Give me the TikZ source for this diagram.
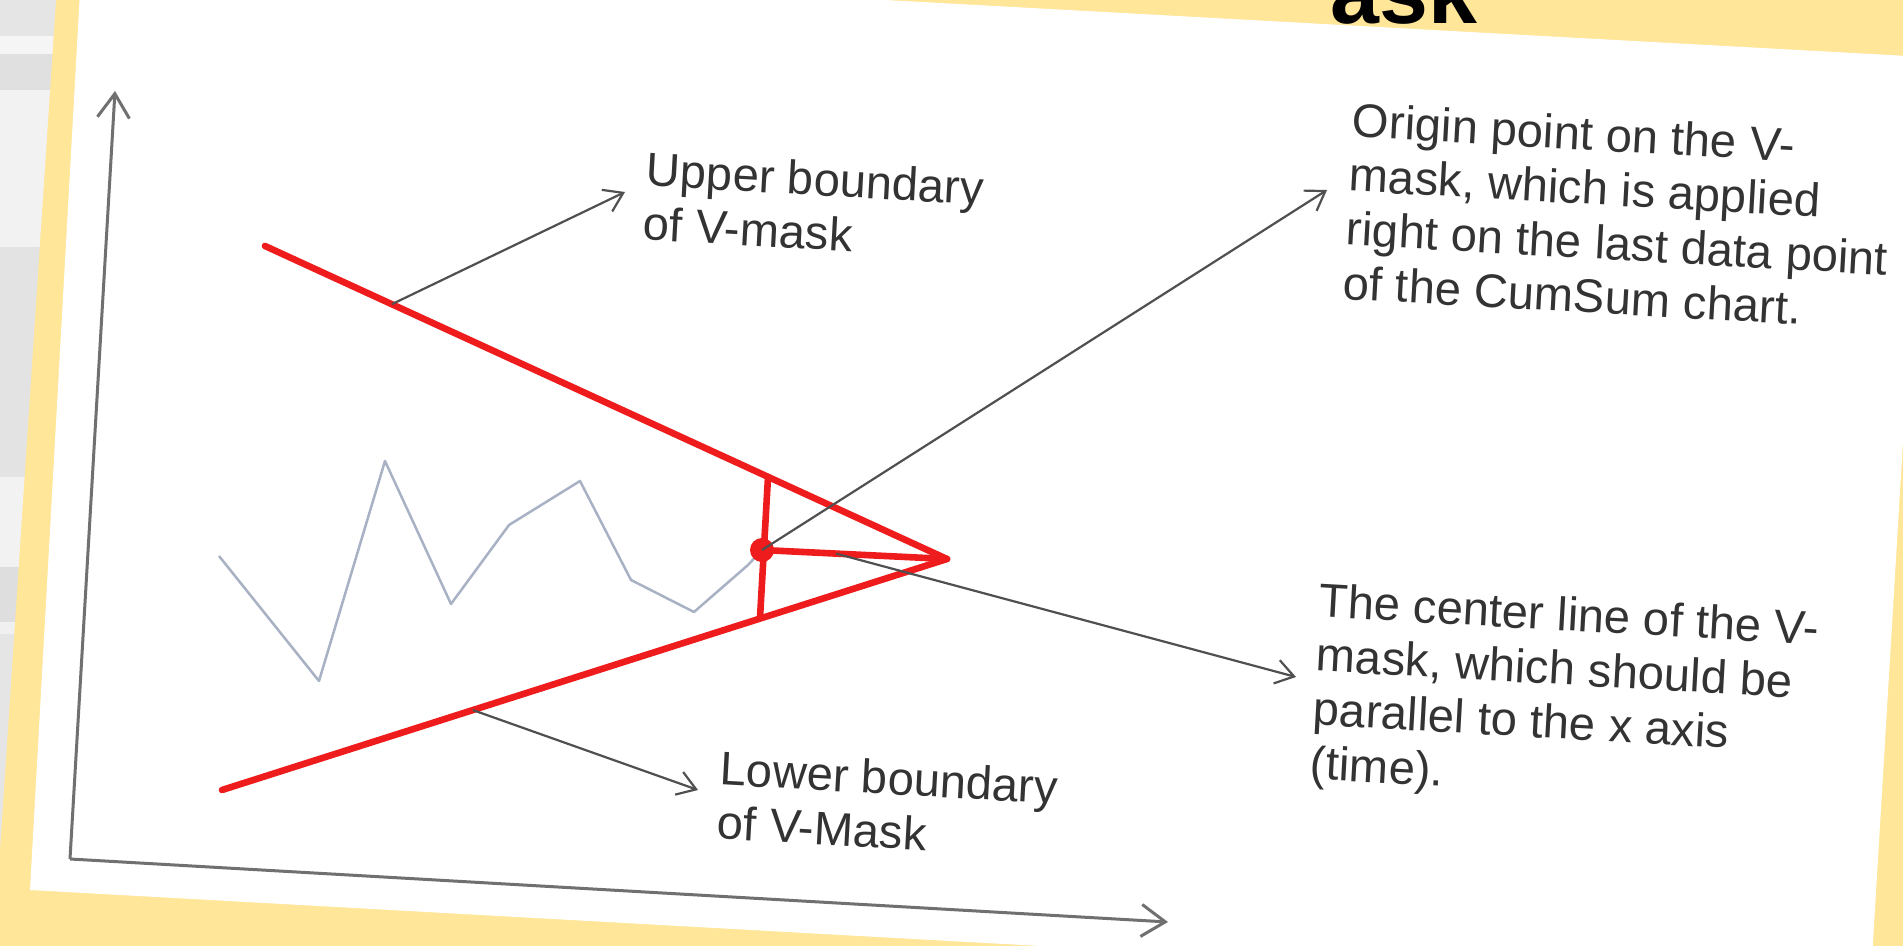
\documentclass[tikz,border=0pt]{standalone}
\usepackage{fontspec}
\setmainfont{Liberation Sans}
\usepackage{tikz}
\usetikzlibrary{arrows.meta,calc}
\definecolor{slideyellow}{HTML}{FFE699}
\definecolor{maskred}{HTML}{EE1C1C}
\definecolor{inkgray}{HTML}{333333}
\definecolor{leadgray}{HTML}{505050}
\definecolor{axisgray}{HTML}{707070}
\definecolor{datablue}{HTML}{A8B2C4}

\begin{document}
\begin{tikzpicture}[
        x=0.01cm, y=-0.01cm,
        mask/.style={draw=maskred, line width=0.066cm, line cap=round, line join=round},
        lead/.style={-{Straight Barb[length=1.8mm, width=2.4mm]}, draw=leadgray, line width=0.022cm},
        axis/.style={-{Straight Barb[length=2.4mm, width=3.2mm]}, draw=axisgray, line width=0.03cm},
        note/.style={anchor=north west, inner sep=0pt, align=left, rotate=-3.2, text=inkgray, font=\fontsize{13.4}{15.4}\selectfont}
    ]
    \useasboundingbox (0,0) rectangle (1903,946);
    \clip (0,0) rectangle (1903,946);
    % slide background
    \fill[slideyellow] (0,0) rectangle (1903,946);
    \begin{scope}
        \clip (0,0) -- (56,0) -- (0,850) -- cycle;
        \foreach \ya/\yb/\tone in {0/36/10, 36/54/4, 54/90/12, 90/247/5, 247/477/11, 477/567/5, 567/622/13, 622/634/6, 634/850/10}
            \fill[black!\tone] (0,\ya) rectangle (60,\yb);
    \end{scope}
    % slide title, mostly hidden behind the card
    \begin{scope}
        \clip (1329,0) rectangle (1903,60);
        \node[anchor=base east, inner sep=0pt, font=\fontsize{25}{30}\selectfont\bfseries] (title) at (1478,24) {V-Mask};
    \end{scope}
    % tilted card
    \fill[white] (82,-44) -- (1926,57) -- (1870,992) -- (30,890) -- cycle;

    % axes
    \coordinate (org) at (70,859);
    \coordinate (ytop) at (115,91);
    \coordinate (xend) at (1168,922);
    \draw[axis] (org) -- (ytop);
    \draw[axis] (org) -- (xend);

    % v-mask points
    \coordinate (up) at (265,246);
    \coordinate (low) at (222,790);
    \coordinate (tip) at (947,559);
    \coordinate (vtop) at (768,477);
    \coordinate (vbot) at (760,618);
    \coordinate (dot) at (762,550);

    % cumsum data
    \draw[datablue, line width=0.025cm, line join=round] (219,556) -- (319,681) -- (385,461) -- (451,604)
        -- (509,525) -- (580,481) -- (631,580) -- (694,612) -- (748,565) -- (dot);

    \draw[mask] (up) -- (tip) -- (low);
    \draw[mask] (vtop) -- (vbot);
    \draw[mask] (dot) -- (tip);
    \node[circle, fill=maskred, inner sep=0pt, minimum size=0.24cm] (origin) at (dot) {};

    % labels
    \node[note] (upnote) at (647,151) {Upper boundary\\of V-mask};
    \node[note] (lownote) at (721,750) {Lower boundary\\of V-Mask};
    \node[note] (orgnote) at (1353,102) {Origin point on the V-\\mask, which is applied\\right on the last data point\\of the CumSum chart.};
    \node[note] (cennote) at (1320,582) {The center line of the V-\\mask, which should be\\parallel to the x axis\\(time).};

    % leaders
    \coordinate (upend) at (625,192);
    \coordinate (lowend) at (698,790);
    \coordinate (orgend) at (1327,190);
    \coordinate (cenend) at (1296,677);
    \draw[lead] ($(up)!0.186!(tip)$) -- (upend);
    \draw[lead] ($(low)!0.346!(tip)$) -- (lowend);
    \draw[lead] (origin.center) -- (orgend);
    \draw[lead] ($(dot)!0.4!(tip)$) -- (cenend);
\end{tikzpicture}
\end{document}
